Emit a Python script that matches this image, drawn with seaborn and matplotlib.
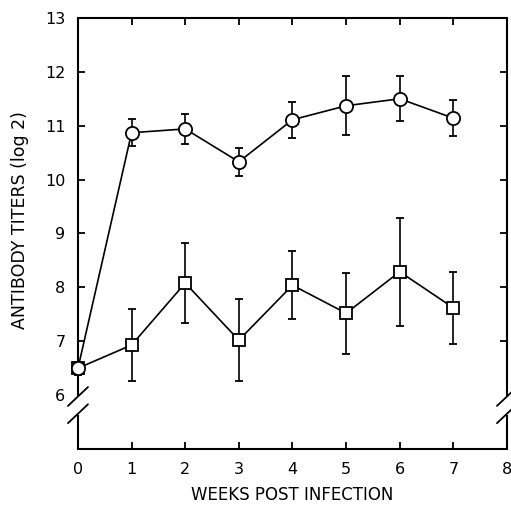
import matplotlib
matplotlib.use('Agg')
import matplotlib.pyplot as plt
import seaborn as sns

# Данные
weeks = [0, 1, 2, 3, 4, 5, 6, 7]
circle_titer = [6.5, 10.87, 10.94, 10.33, 11.11, 11.37, 11.5, 11.14]
circle_err = [0.08, 0.25, 0.28, 0.26, 0.33, 0.55, 0.42, 0.33]
square_titer = [6.5, 6.93, 8.08, 7.02, 8.04, 7.52, 8.29, 7.62]
square_err = [0.12, 0.67, 0.74, 0.76, 0.63, 0.75, 1.0, 0.67]

x_ticks = [0, 1, 2, 3, 4, 5, 6, 7, 8]
y_ticks = [6, 7, 8, 9, 10, 11, 12, 13]

sns.set_style('ticks')
plt.rcParams['font.family'] = ['DejaVu Sans']
plt.rcParams['text.color'] = 'black'

fig = plt.figure(figsize=(5.11, 5.12), dpi=100)
ax = fig.add_axes([0.1526, 0.123, 0.8395, 0.842])

# Планки погрешностей под маркерами
for y, e in [(circle_titer, circle_err), (square_titer, square_err)]:
    ax.errorbar(weeks, y, yerr=e, fmt='none', ecolor='black',
                elinewidth=1.2, capsize=3, capthick=1.3, zorder=2,
                clip_on=False)

sns.lineplot(x=weeks, y=square_titer, ax=ax, color='black', linewidth=1.2,
             marker='s', markersize=8, markerfacecolor='white',
             markeredgecolor='black', markeredgewidth=1.3, zorder=3,
             clip_on=False)
sns.lineplot(x=weeks, y=circle_titer, ax=ax, color='black', linewidth=1.2,
             marker='o', markersize=9.5, markerfacecolor='white',
             markeredgecolor='black', markeredgewidth=1.3, zorder=4,
             clip_on=False)

ax.set_xlim(0, 8)
ax.set_ylim(5, 13)
ax.set_xticks(x_ticks)
ax.set_yticks(y_ticks)
ax.tick_params(direction='in', top=True, right=True, length=5, width=1.3,
               labelsize=11.5, pad=9, colors='black')
for t in ax.yaxis.get_major_ticks()[:1]:
    t.tick1line.set_visible(False)
    t.tick2line.set_visible(False)

ax.set_xlabel('WEEKS POST INFECTION', fontsize=12, labelpad=7,
              color='black')
ax.set_ylabel('ANTIBODY TITERS (log 2)', fontsize=12.5, color='black')
ax.yaxis.set_label_coords(-0.115, 0.53)

# Оси с разрывом
for side in ['left', 'right']:
    ax.spines[side].set_visible(False)
for side in ['top', 'bottom']:
    ax.spines[side].set_linewidth(1.5)
    ax.spines[side].set_color('black')

trans = ax.get_yaxis_transform()
dx = 10 / (0.8395 * 511)
for xs in [0, 1]:
    ax.plot([xs, xs], [5, 5.63], transform=trans, color='black', lw=1.5,
            clip_on=False, solid_capstyle='butt')
    ax.plot([xs, xs], [5.98, 13], transform=trans, color='black', lw=1.5,
            clip_on=False, solid_capstyle='butt')
    ax.plot([xs - dx, xs + dx], [5.8, 6.15], transform=trans, color='black',
            lw=1.3, clip_on=False)
    ax.plot([xs - dx, xs + dx], [5.48, 5.83], transform=trans, color='black',
            lw=1.3, clip_on=False)

plt.savefig('out.png', dpi=100)
